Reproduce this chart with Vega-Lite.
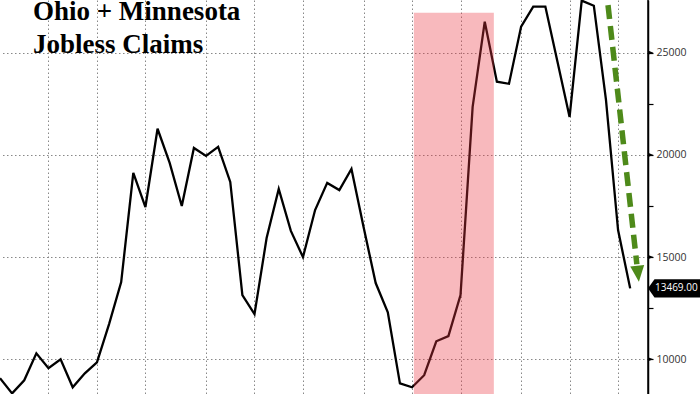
{
  "$schema": "https://vega.github.io/schema/vega-lite/v6.json",
  "width": 648,
  "height": 394,
  "autosize": {"type": "none"},
  "padding": {"left": 0, "top": 0, "right": 52, "bottom": 0},
  "background": "white",
  "config": {"view": {"stroke": null}},
  "datasets": {
    "claims": [
      {"x": 0, "y": 9070}, {"x": 1, "y": 8330}, {"x": 2, "y": 8970},
      {"x": 3, "y": 10290}, {"x": 4, "y": 9560}, {"x": 5, "y": 10000},
      {"x": 6, "y": 8630}, {"x": 7, "y": 9310}, {"x": 8, "y": 9850},
      {"x": 9, "y": 11720}, {"x": 10, "y": 13780}, {"x": 11, "y": 19120},
      {"x": 12, "y": 17450}, {"x": 13, "y": 21280}, {"x": 14, "y": 19610},
      {"x": 15, "y": 17500}, {"x": 16, "y": 20340}, {"x": 17, "y": 19950},
      {"x": 18, "y": 20390}, {"x": 19, "y": 18680}, {"x": 20, "y": 13140},
      {"x": 21, "y": 12210}, {"x": 22, "y": 15930}, {"x": 23, "y": 18330},
      {"x": 24, "y": 16280}, {"x": 25, "y": 15000}, {"x": 26, "y": 17300},
      {"x": 27, "y": 18630}, {"x": 28, "y": 18280}, {"x": 29, "y": 19310},
      {"x": 30, "y": 16470}, {"x": 31, "y": 13730}, {"x": 32, "y": 12300},
      {"x": 33, "y": 8820}, {"x": 34, "y": 8630}, {"x": 35, "y": 9220},
      {"x": 36, "y": 10880}, {"x": 37, "y": 11130}, {"x": 38, "y": 13140},
      {"x": 39, "y": 22350}, {"x": 40, "y": 26520}, {"x": 41, "y": 23580},
      {"x": 42, "y": 23480}, {"x": 43, "y": 26280}, {"x": 44, "y": 27260},
      {"x": 45, "y": 27260}, {"x": 46, "y": 24560}, {"x": 47, "y": 21860},
      {"x": 48, "y": 27550}, {"x": 49, "y": 27300}, {"x": 50, "y": 22700},
      {"x": 51, "y": 16320}, {"x": 52, "y": 13469}
    ],
    "band": [{"x": 34.15, "x2": 40.75, "y": 8300, "y2": 26960}],
    "arrow": [{"x": 50.17, "y": 27330, "x2": 52.55, "y2": 14650}],
    "head": [{"x": 52.64, "y": 14230}],
    "axisline": [{"x": 53.41, "x2": 53.53, "y": 8300, "y2": 27580}],
    "majors": [{"x": 53.47, "y": 10000}, {"x": 53.47, "y": 15000}, {"x": 53.47, "y": 20000}, {"x": 53.47, "y": 25000}],
    "last": [{"x": 53.47, "y": 13469, "label": "13469.00"}],
    "title": [
      {"x": 2.72, "y": 26600, "text": "Ohio + Minnesota"},
      {"x": 2.72, "y": 24980, "text": "Jobless Claims"}
    ]
  },
  "encoding": {
    "x": {
      "field": "x", "type": "quantitative",
      "scale": {"domain": [0, 53.47], "nice": false, "zero": false},
      "axis": {
        "values": [4, 8, 12, 17, 21, 25, 30, 34, 38, 43, 47, 51],
        "labels": false, "ticks": false, "domain": false, "title": null,
        "grid": true, "gridDash": [1.5, 2.5], "gridColor": "#888", "gridWidth": 1
      }
    },
    "y": {
      "field": "y", "type": "quantitative",
      "scale": {"domain": [8300, 27580], "nice": false, "zero": false},
      "axis": {
        "orient": "right",
        "values": [10000, 12500, 15000, 17500, 20000, 22500, 25000],
        "format": "d",
        "labelExpr": "datum.value % 5000 === 0 ? datum.label : ''",
        "title": null,
        "domain": true, "domainColor": "black", "domainWidth": 1.5,
        "tickColor": "black", "tickSize": 5, "tickWidth": 1.2,
        "labelFont": "Open Sans", "labelFontSize": 10.5, "labelColor": "#333", "labelPadding": 3,
        "grid": true, "gridDash": [1.5, 2.5], "gridColor": "#888", "gridWidth": 1,
        "gridOpacity": {"condition": {"test": "datum.value % 5000 === 0", "value": 1}, "value": 0}
      }
    }
  },
  "layer": [
    {
      "data": {"name": "claims"},
      "mark": {"type": "line", "color": "black", "strokeWidth": 2.3}
    },
    {
      "data": {"name": "band"},
      "mark": {"type": "rect", "color": "#eb3742", "opacity": 0.35},
      "encoding": {"x2": {"field": "x2"}, "y2": {"field": "y2"}}
    },
    {
      "data": {"name": "arrow"},
      "mark": {"type": "rule", "color": "#4e8a1a", "strokeWidth": 5.5, "strokeDash": [14, 7]},
      "encoding": {"x2": {"field": "x2"}, "y2": {"field": "y2"}}
    },
    {
      "data": {"name": "head"},
      "mark": {"type": "point", "shape": "M-1,-1L1,-1L0,1.3Z", "filled": true, "color": "#4e8a1a", "opacity": 1, "size": 196, "angle": 354, "strokeWidth": 0}
    },
    {
      "data": {"name": "axisline"},
      "mark": {"type": "rect", "color": "#000000", "opacity": 1},
      "encoding": {"x2": {"field": "x2"}, "y2": {"field": "y2"}}
    },
    {
      "data": {"name": "majors"},
      "mark": {"type": "point", "shape": "M0,-0.7L1.8,0L0,0.7Z", "filled": true, "color": "black", "opacity": 1, "size": 36, "strokeWidth": 0}
    },
    {
      "data": {"name": "last"},
      "mark": {"type": "point", "shape": "M0,0L0.25,-0.35L2,-0.35L2,0.35L0.25,0.35Z", "filled": true, "color": "black", "opacity": 1, "size": 2704, "strokeWidth": 0}
    },
    {
      "data": {"name": "last"},
      "mark": {"type": "text", "color": "white", "font": "Open Sans", "fontSize": 10, "align": "left", "baseline": "middle", "dx": 7},
      "encoding": {"text": {"field": "label"}}
    },
    {
      "data": {"name": "title"},
      "mark": {"type": "text", "color": "black", "font": "Liberation Serif", "fontWeight": "bold", "fontSize": 27, "align": "left", "baseline": "alphabetic"},
      "encoding": {"text": {"field": "text"}}
    }
  ]
}
